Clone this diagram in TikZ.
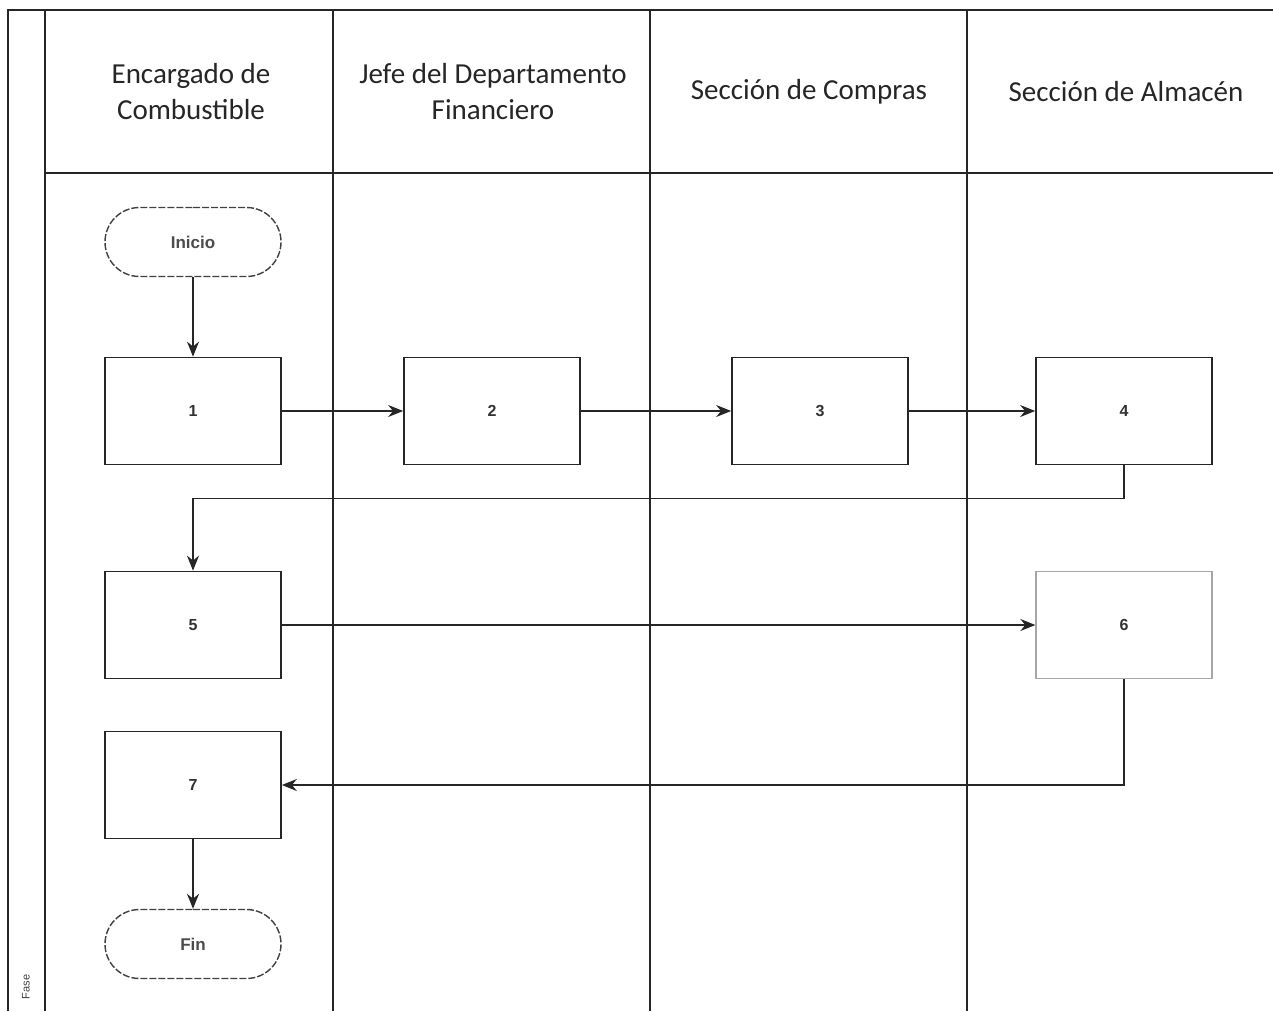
\documentclass[tikz,border=0pt]{standalone}
\usepackage{fontspec}
\setmainfont{Carlito}
\newfontfamily\boxfont{Liberation Sans}
\usetikzlibrary{arrows.meta,shapes.misc}
\begin{document}
\begin{tikzpicture}[x=1pt,y=-1pt,
  frame/.style={line width=1.8pt,draw=black!85},
  hdr/.style={font=\fontsize{29}{36}\selectfont,align=center,text=black!85},
  proc/.style={draw=black!85,line width=1.7pt,minimum width=176pt,minimum height=107pt,inner sep=0pt,font=\boxfont\fontsize{16}{18}\selectfont\bfseries,text=black!80},
  faint/.style={draw=black!35,line width=1.3pt},
  term/.style={draw=black!75,line width=1.4pt,dash pattern=on 7pt off 2pt,rounded rectangle,minimum width=176pt,minimum height=69pt,inner sep=0pt,font=\boxfont\fontsize{17}{19}\selectfont\bfseries,text=black!70},
  conn/.style={line width=1.7pt,draw=black!85,-{Stealth[length=15pt,width=12pt]}}]
\useasboundingbox[fill=white] (0,0) rectangle (1273,1011);
% frame
\draw[frame] (8,1011) -- (8,10) -- (1273,10);
\draw[frame] (45,1011) -- (45,10);
\draw[frame] (45,173) -- (1273,173);
\draw[frame] (333,10) -- (333,1011);
\draw[frame] (650,10) -- (650,1011);
\draw[frame] (967,10) -- (967,1011);
\node[rotate=90,font=\boxfont\fontsize{11}{12}\selectfont,text=black!75] (fase) at (26,987) {Fase};
% headers
\node[hdr] (h1) at (191,92) {Encargado de\\Combustible};
\node[hdr] (h2) at (493,92) {Jefe del Departamento\\Financiero};
\node[hdr] (h3) at (809,92) {Sección de Compras};
\node[hdr] (h4) at (1126,92) {Sección de Almacén};
% nodes
\node[term] (ini) at (193,242) {Inicio};
\node[proc] (n1) at (193,411) {1};
\node[proc] (n2) at (492,411) {2};
\node[proc] (n3) at (820,411) {3};
\node[proc] (n4) at (1124,411) {4};
\node[proc] (n5) at (193,625) {5};
\node[proc,faint] (n6) at (1124,625) {6};
\node[proc] (n7) at (193,785) {7};
\node[term] (fin) at (193,944) {Fin};
% connectors
\draw[conn] (ini) -- (n1);
\draw[conn] (n1) -- (n2);
\draw[conn] (n2) -- (n3);
\draw[conn] (n3) -- (n4);
\draw[conn] (n4.south) -- ++(0,33) -| (n5.north);
\draw[conn] (n5) -- (n6);
\draw[conn] (n6.south) |- (n7.east);
\draw[conn] (n7) -- (fin);
\end{tikzpicture}
\end{document}
